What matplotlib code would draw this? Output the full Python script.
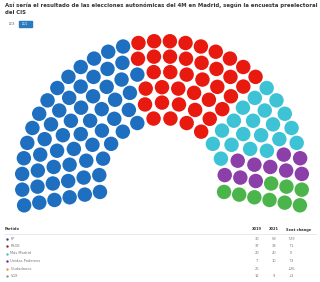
import numpy as np
import matplotlib
matplotlib.use("Agg")
import matplotlib.pyplot as plt

# seats per party (CIS preelectoral, 2021)
parties = ["PP", "PSOE", "Más Madrid", "Unidas Podemos", "Ciudadanos", "VOX"]
seats_2019 = [30, 37, 20, 7, 26, 12]
seats_2021 = [59, 38, 20, 10, 0, 9]
seat_change = ["\u219129", "\u21911", "0", "\u21913", "\u219326", "\u21933"]
colors = ["#1f6fc0", "#e8190f", "#3ec3d6", "#8c3fa8", "#f08a3c", "#4bb44a"]
dot_colors = ["#274a78", "#a01a2c", "#40c4c4", "#6b2e86", "#e8914a", "#8a9a8a"]
row_seats = [14, 17, 21, 24, 28, 32]

# hemicycle geometry (pixels)
cx, cy = 162, 181
r_in, r_out = 63, 140
extra = np.radians(10)

radii = np.linspace(r_in, r_out, len(row_seats))

pts = []
for r, n in zip(radii, row_seats):
    for a in np.linspace(np.pi + extra, -extra, n):
        pts.append((a, r))
pts.sort(key=lambda p: (-p[0], p[1]))

seat_cols = []
for c, n in zip(colors, seats_2021):
    seat_cols += [c] * n

fig = plt.figure(figsize=(3.2, 2.82), dpi=100)
ax = fig.add_axes([0, 0, 1, 1])
ax.set_xlim(0, 320)
ax.set_ylim(282, 0)
ax.axis("off")

xs = [cx + r * np.cos(a) for a, r in pts]
ys = [cy - r * np.sin(a) for a, r in pts]
ax.scatter(xs, ys, s=108, c=seat_cols, linewidths=0)

# title
ax.text(5, 5, "Así sería el resultado de las elecciones autonómicas del 4M en Madrid, según la encuesta preelectoral",
        fontsize=3.85, fontweight="bold", color="#333333", va="center")
ax.text(5, 12.5, "del CIS", fontsize=3.85, fontweight="bold", color="#333333", va="center")

# year buttons
ax.text(12, 24, "2019", fontsize=1.8, color="#555555", ha="center", va="center")
ax.add_patch(plt.Rectangle((19, 21), 12.5, 6, color="#2a7ac0"))
ax.text(25.2, 24, "2021", fontsize=1.8, color="white", ha="center", va="center")

# table
hy = 229.5
ax.text(5, hy, "Partido", fontsize=2.6, fontweight="bold", color="#333333", va="center")
ax.text(257, hy, "2019", fontsize=2.6, fontweight="bold", color="#333333", va="center", ha="center")
ax.text(274, hy, "2021", fontsize=2.6, fontweight="bold", color="#333333", va="center", ha="center")
ax.text(299, hy, "Seat change", fontsize=2.6, fontweight="bold", color="#333333", va="center", ha="center")
ax.plot([4, 316], [233.5, 233.5], color="#e0e0e0", lw=0.5)
for i, p in enumerate(parties):
    y = 238.5 + i * 7.5
    ax.scatter([7], [y], s=3, c=dot_colors[i], linewidths=0)
    ax.text(10.5, y, p, fontsize=2.6, color="#777777", va="center")
    ax.text(257, y, str(seats_2019[i]), fontsize=2.6, color="#777777", va="center", ha="center")
    if seats_2021[i]:
        ax.text(274, y, str(seats_2021[i]), fontsize=2.6, color="#777777", va="center", ha="center")
    ax.text(291, y, seat_change[i], fontsize=2.6, color="#777777", va="center", ha="center")

plt.savefig("out.png", dpi=100)
